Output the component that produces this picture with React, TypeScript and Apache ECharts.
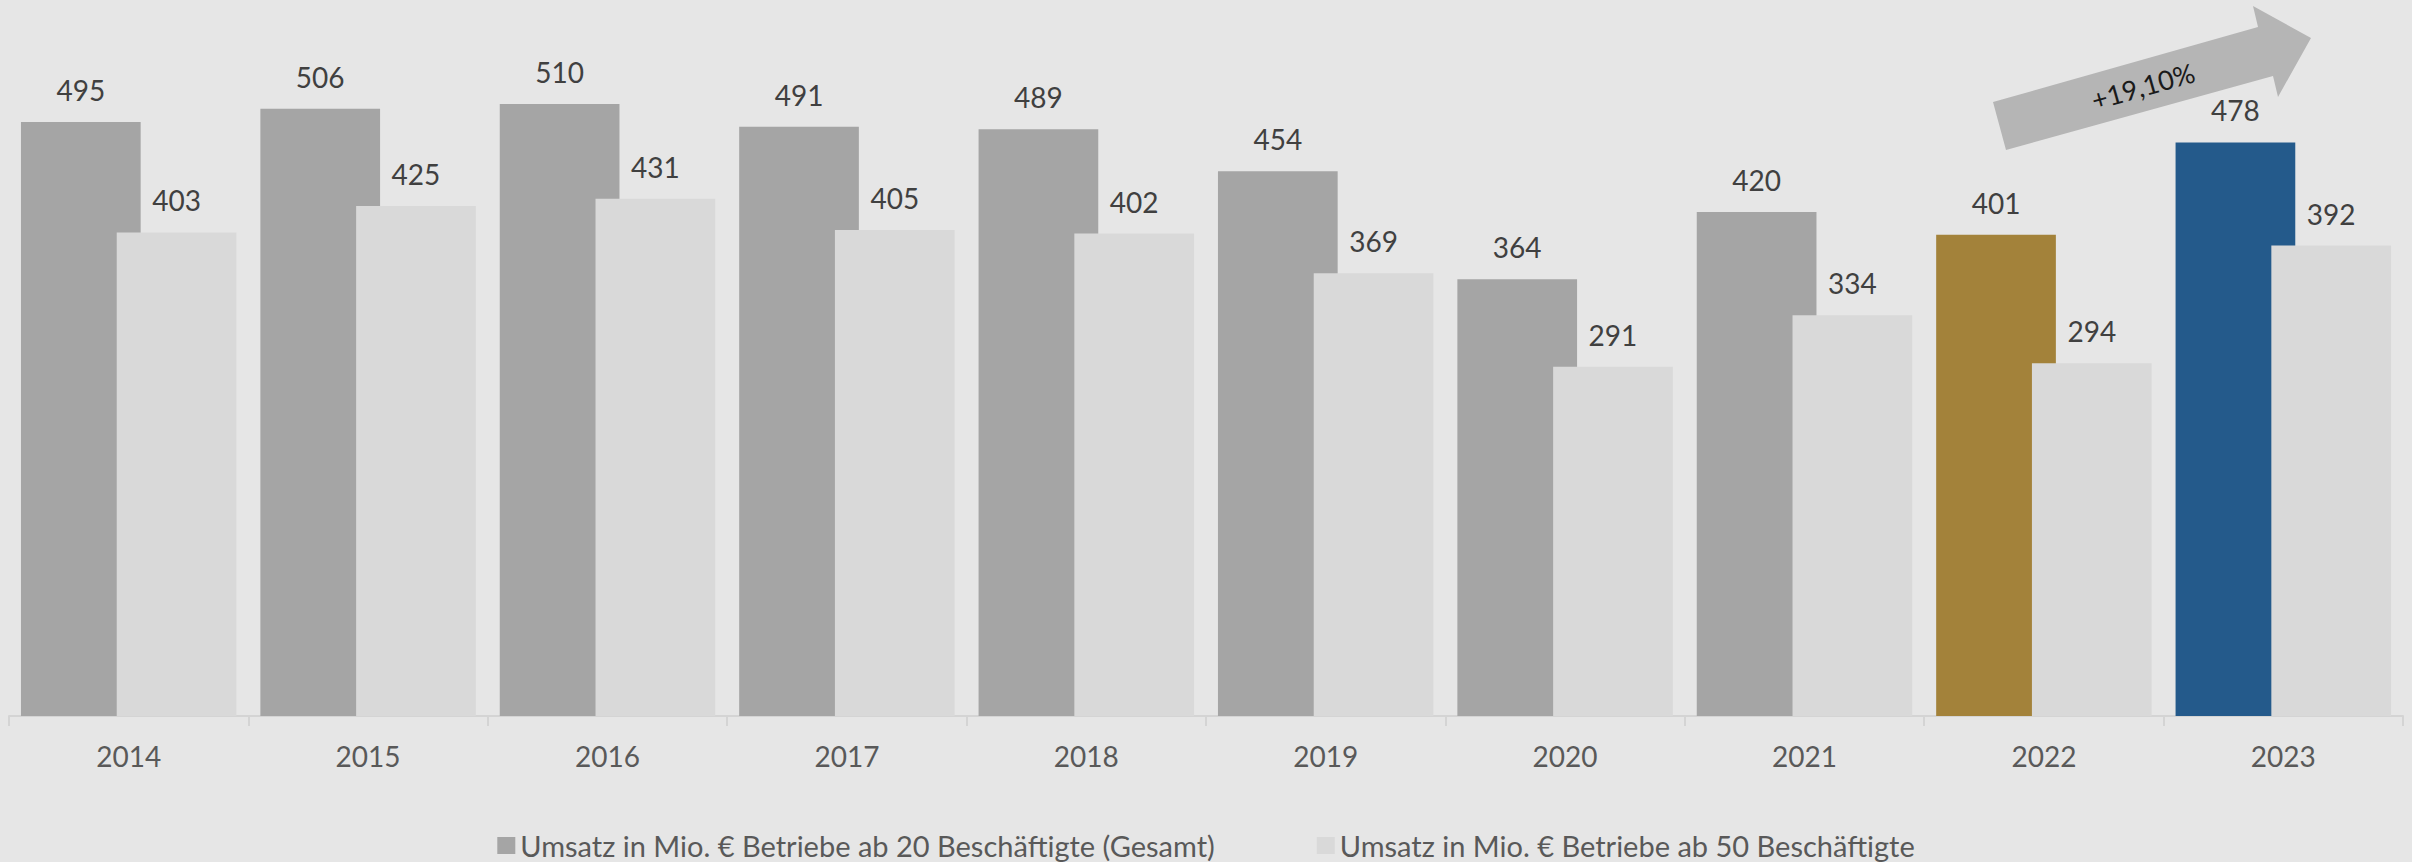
import React, { useEffect, useRef } from "react";
import * as echarts from "echarts";

const years = ["2014", "2015", "2016", "2017", "2018", "2019", "2020", "2021", "2022", "2023"];
const gesamt = [495, 506, 510, 491, 489, 454, 364, 420, 401, 478];
const ab50 = [403, 425, 431, 405, 402, 369, 291, 334, 294, 392];
const gesamtColors = ["#a5a5a5", "#a5a5a5", "#a5a5a5", "#a5a5a5", "#a5a5a5", "#a5a5a5", "#a5a5a5", "#a5a5a5", "#a3823a", "#245a8b"];
const seriesNames = [
  "Umsatz in Mio. € Betriebe ab 20 Beschäftigte (Gesamt)",
  "Umsatz in Mio. € Betriebe ab 50 Beschäftigte",
];
const growthLabel = "+19,10%";

const FONT = "Lato, 'Open Sans', sans-serif";

export default function App() {
  const ref = useRef<HTMLDivElement>(null);
  useEffect(() => {
    document.body.style.margin = "0";
    document.body.style.background = "#e6e6e6";
    const chart = echarts.init(ref.current!, null, { renderer: "svg" });
    const labelStyle = {
      show: true,
      position: "top",
      distance: 18,
      color: "#404040",
      fontSize: 28,
      fontFamily: FONT,
    };
    chart.setOption({
      animation: false,
      backgroundColor: "#e6e6e6",
      textStyle: { fontFamily: FONT },
      grid: { left: 9, right: 9, top: 56, bottom: 146, containLabel: false },
      xAxis: {
        type: "category",
        data: years,
        axisLine: { show: true, lineStyle: { color: "#d4d4d4", width: 2 } },
        axisTick: { show: true, length: 10, lineStyle: { color: "#d4d4d4", width: 2 } },
        axisLabel: { color: "#595959", fontSize: 28, fontFamily: FONT, margin: 26 },
      },
      yAxis: {
        type: "value",
        min: 0,
        max: 550,
        show: false,
        splitLine: { show: false },
      },
      legend: {
        top: 831,
        left: "center",
        padding: 0,
        itemWidth: 18,
        itemHeight: 17,
        itemGap: 102,
        icon: "rect",
        textStyle: { color: "#595959", fontSize: 29, lineHeight: 28, fontFamily: FONT },
        data: seriesNames,
      },
      series: [
        {
          name: seriesNames[0],
          type: "bar",
          data: gesamt.map((v, i) => ({ value: v, itemStyle: { color: gesamtColors[i] } })),
          itemStyle: { color: "#a5a5a5" },
          barGap: "-20%",
          barCategoryGap: "10%",
          label: labelStyle,
        },
        {
          name: seriesNames[1],
          type: "bar",
          data: ab50,
          itemStyle: { color: "#d9d9d9" },
          barGap: "-20%",
          barCategoryGap: "10%",
          label: labelStyle,
        },
      ],
      graphic: [
        {
          type: "polygon",
          shape: {
            points: [
              [2006, 150],
              [1993, 102],
              [2258, 27],
              [2253, 6],
              [2311, 38],
              [2278, 97],
              [2273, 76],
            ],
          },
          style: { fill: "#b5b5b5" },
          z: 10,
        },
        {
          type: "text",
          x: 2143,
          y: 86,
          rotation: (15.8 * Math.PI) / 180,
          style: {
            text: growthLabel,
            fill: "#1a1a1a",
            fontSize: 27,
            fontFamily: FONT,
            textAlign: "center",
            textVerticalAlign: "middle",
          },
          z: 11,
        },
      ],
    });
    return () => chart.dispose();
  }, []);
  return <div ref={ref} style={{ width: 2412, height: 862 }} />;
}
